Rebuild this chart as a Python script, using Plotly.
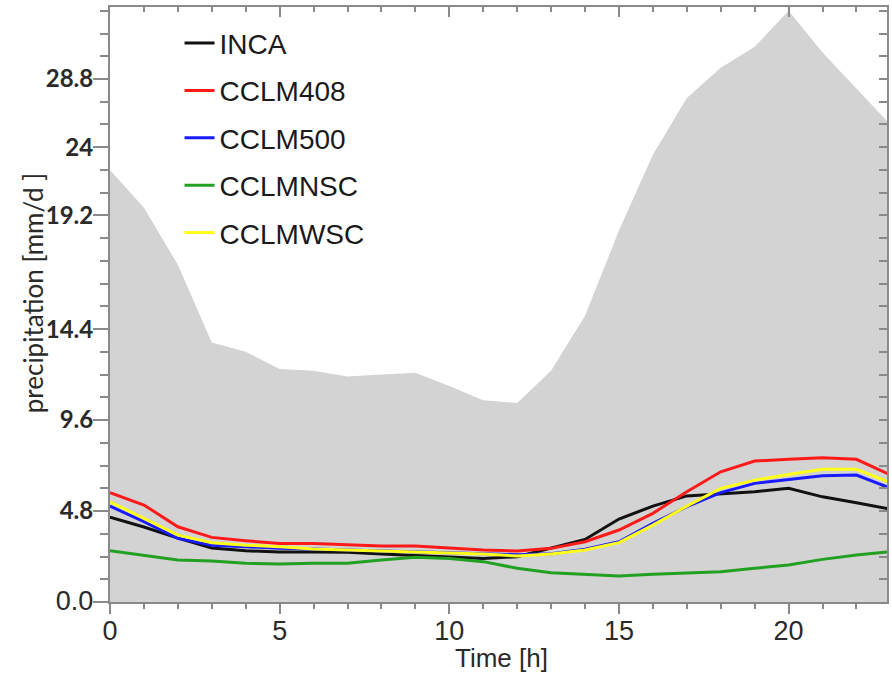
import plotly.graph_objects as go

hours = list(range(24))

envelope_max = [22.8, 20.8, 17.8, 13.7, 13.2, 12.3, 12.2, 11.9, 12.0, 12.1, 11.4, 10.65,
                10.5, 12.2, 15.1, 19.6, 23.6, 26.6, 28.2, 29.3, 31.2, 29.0, 27.1, 25.2]

inca = [4.48, 3.96, 3.37, 2.85, 2.7, 2.64, 2.64, 2.62, 2.53, 2.44, 2.36, 2.29,
        2.39, 2.85, 3.3, 4.38, 5.06, 5.6, 5.69, 5.82, 6.0, 5.55, 5.24, 4.9]
cclm408 = [5.77, 5.12, 3.97, 3.41, 3.23, 3.09, 3.09, 3.0, 2.95, 2.95, 2.83, 2.74,
           2.69, 2.83, 3.18, 3.8, 4.68, 5.82, 6.87, 7.44, 7.53, 7.61, 7.53, 6.7]
cclm500 = [5.06, 4.24, 3.36, 3.0, 2.92, 2.83, 2.8, 2.75, 2.7, 2.68, 2.6, 2.55,
           2.5, 2.55, 2.78, 3.18, 4.15, 5.03, 5.77, 6.26, 6.47, 6.66, 6.7, 6.0]
cclmnsc = [2.71, 2.48, 2.22, 2.16, 2.04, 2.0, 2.04, 2.04, 2.22, 2.36, 2.3, 2.13,
           1.78, 1.55, 1.46, 1.37, 1.46, 1.55, 1.6, 1.78, 1.95, 2.25, 2.48, 2.65]
cclmwsc = [5.29, 4.41, 3.53, 3.13, 3.0, 2.92, 2.8, 2.74, 2.69, 2.65, 2.6, 2.53,
           2.43, 2.53, 2.74, 3.13, 4.06, 5.06, 6.0, 6.43, 6.73, 7.0, 7.0, 6.3]

series_names = ["INCA", "CCLM408", "CCLM500", "CCLMNSC", "CCLMWSC"]
series_values = [inca, cclm408, cclm500, cclmnsc, cclmwsc]
series_colors = ["#111111", "#ff1a1a", "#1a1aff", "#22a022", "#ffff1a"]

# tick labels as printed on the original chart, at the positions where they appear
y_tickvals = [0.0, 4.8, 9.6, 14.4, 20.4, 24.0, 27.6]
y_ticktext = ["<span style='font-family:Liberation Sans;font-size:27px;font-weight:normal'>0.0</span>",
              "4.8", "9.6", "14.4", "19.2", "24", "28.8"]
x_tickvals = [0, 5, 10, 15, 20]

x_title = "Time [h]"
y_title = "precipitation [mm/d ]"

y_minor = [round(1.2 * i, 2) for i in range(27)]
x_minor = list(range(24))

axis_col = "#8a8a8a"

fig = go.Figure()
fig.add_trace(go.Scatter(x=hours, y=envelope_max, mode="lines", fill="tozeroy",
                         fillcolor="#d3d3d3", line=dict(width=0, color="#d3d3d3"),
                         showlegend=False, hoverinfo="skip"))
for name, vals, col in zip(series_names, series_values, series_colors):
    fig.add_trace(go.Scatter(x=hours, y=vals, mode="lines", name=name, legendgroup=name,
                             line=dict(color=col, width=3)))
# empty trace so that the mirrored frame axes (top / right) are drawn
fig.add_trace(go.Scatter(x=[], y=[], xaxis="x2", yaxis="y2", showlegend=False,
                         hoverinfo="skip"))

X_RANGE = [0, 22.9]
Y_RANGE = [0, 31.4]

fig.update_layout(
    width=892, height=679,
    margin=dict(l=110, r=5, t=7, b=77),
    paper_bgcolor="white", plot_bgcolor="white",
    showlegend=True,
    legend=dict(x=0.0895, y=0.981, xanchor="left", yanchor="top",
                bgcolor="rgba(0,0,0,0)", borderwidth=0,
                font=dict(family="Liberation Sans", size=28, color="#1a1a1a"),
                tracegroupgap=8, traceorder="grouped"),
    xaxis=dict(range=X_RANGE, showgrid=False, zeroline=False, automargin=False,
               showline=True, linecolor=axis_col, linewidth=2,
               tickmode="array", tickvals=x_tickvals, ticks="outside", ticklen=10,
               tickwidth=2, tickcolor=axis_col, ticklabelstandoff=-6,
               minor=dict(tickmode="array", tickvals=x_minor, ticks="outside", ticklen=5,
                          tickwidth=1.5, tickcolor=axis_col),
               tickfont=dict(family="Liberation Sans", size=27, color="#2a2a2a")),
    yaxis=dict(range=Y_RANGE, showgrid=False, zeroline=False, automargin=False,
               showline=True, linecolor=axis_col, linewidth=2,
               tickmode="array", tickvals=y_tickvals, ticktext=y_ticktext,
               ticks="outside", ticklen=15, tickwidth=2, tickcolor=axis_col,
               ticklabelstandoff=-5,
               minor=dict(tickmode="array", tickvals=y_minor, ticks="outside", ticklen=8,
                          tickwidth=1.5, tickcolor=axis_col),
               tickfont=dict(family="Lato", size=24, color="#2a2a2a", weight="bold")),
    xaxis2=dict(range=X_RANGE, overlaying="x", side="top", anchor="y2", automargin=False,
                showgrid=False, zeroline=False, showline=True, linecolor=axis_col, linewidth=2,
                tickmode="array", tickvals=x_tickvals, ticks="inside", ticklen=10,
                tickwidth=2, tickcolor=axis_col, showticklabels=False,
                minor=dict(tickmode="array", tickvals=x_minor, ticks="inside", ticklen=5,
                           tickwidth=1.5, tickcolor=axis_col)),
    yaxis2=dict(range=Y_RANGE, overlaying="y", side="right", anchor="x2", automargin=False,
                showgrid=False, zeroline=False, showline=True, linecolor=axis_col, linewidth=2,
                tickmode="array", tickvals=y_minor, ticks="inside", ticklen=8,
                tickwidth=1.5, tickcolor=axis_col, showticklabels=False),
    annotations=[
        dict(text=x_title, xref="paper", yref="paper", x=0.5045, y=-0.094,
             xanchor="center", yanchor="middle", showarrow=False,
             font=dict(family="Liberation Sans", size=26, color="#2a2a2a")),
        dict(text=y_title, xref="paper", yref="paper", x=-0.099, y=0.519,
             xanchor="center", yanchor="middle", showarrow=False, textangle=-90,
             font=dict(family="Lato", size=26, color="#2a2a2a")),
    ],
)

fig.write_html("out.html", config={"displayModeBar": False},
               post_script="document.body.style.margin='0';document.body.style.overflow='hidden';")
